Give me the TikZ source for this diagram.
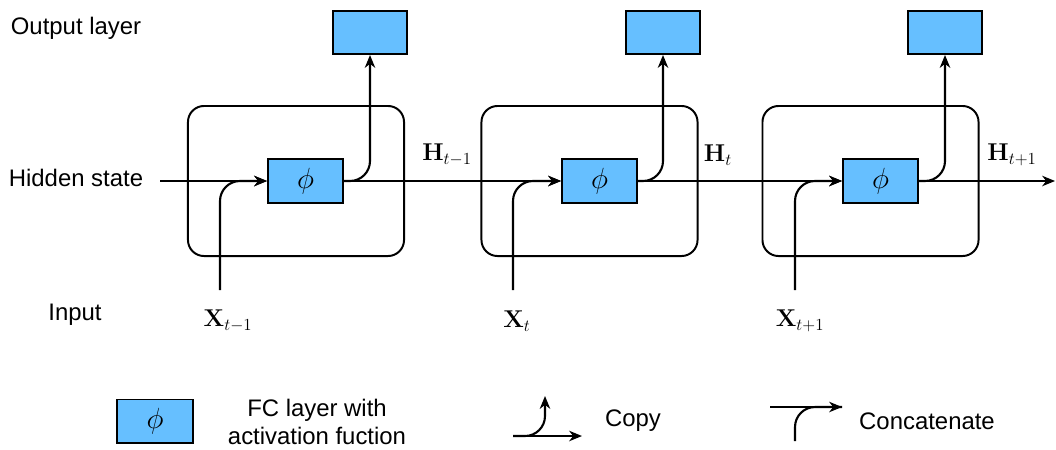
\documentclass[tikz,border=0pt]{standalone}
\usepackage[no-math]{fontspec}
\setmainfont{Liberation Sans}
\usetikzlibrary{arrows.meta,positioning}
\definecolor{fcblue}{RGB}{102,191,255}

\begin{document}
\begin{tikzpicture}[
    x=0.025cm, y=-0.025cm,
    fc/.style={rectangle, draw=black, line width=1.4pt, fill=fcblue, minimum width=1.875cm, minimum height=1.1cm, font=\fontsize{20}{22}\selectfont},
    outbox/.style={rectangle, draw=black, line width=1.4pt, fill=fcblue, minimum width=1.85cm, minimum height=1.075cm},
    cell/.style={rectangle, draw=black, line width=1.4pt, rounded corners=0.4cm, minimum width=5.4cm, minimum height=3.75cm},
    arrow/.style={-{Stealth[length=3.2mm, width=2.6mm, inset=1mm]}, line width=1.5pt},
    link/.style={line width=1.5pt},
    lbl/.style={font=\fontsize{17}{20}\selectfont},
    var/.style={font=\fontsize{17}{20}\selectfont},
]
\useasboundingbox (0,0) rectangle (1056,449);

% Row labels
\node[lbl] (outlbl) at (76,28) {Output layer};
\node[lbl] (hidlbl) at (76,178) {Hidden state};
\node[lbl] (inlbl) at (75,315) {Input};

% Cells
\node[cell] (cell1) at (296,181) {};
\node[cell] (cell2) at (589.5,181) {};
\node[cell] (cell3) at (870.5,181) {};

% FC layers
\node[fc] (phi1) at (305.5,181) {$\phi$};
\node[fc] (phi2) at (599.5,181) {$\phi$};
\node[fc] (phi3) at (880.5,181) {$\phi$};

% Output layers
\node[outbox] (out1) at (370,32.5) {};
\node[outbox] (out2) at (663,32.5) {};
\node[outbox] (out3) at (945,32.5) {};

% Inputs
\coordinate (xin1) at (220,290);
\coordinate (xin2) at (513,290);
\coordinate (xin3) at (795,290);
\node[var] (x1) at (228,321) {$\mathbf{X}_{t-1}$};
\node[var] (x2) at (517,321) {$\mathbf{X}_{t}$};
\node[var] (x3) at (800,321) {$\mathbf{X}_{t+1}$};

% Hidden states
\coordinate (hin) at (160,181);
\coordinate (hend) at (1055,181);
\node[var] (h1) at (447,155) {$\mathbf{H}_{t-1}$};
\node[var] (h2) at (718,155) {$\mathbf{H}_{t}$};
\node[var] (h3) at (1012,155) {$\mathbf{H}_{t+1}$};

% Connections
\draw[arrow] (hin) -- (phi1.west);
\draw[arrow] (phi1.east) -- (phi2.west);
\draw[arrow] (phi2.east) -- (phi3.west);
\draw[arrow] (phi3.east) -- (hend);

\draw[arrow, rounded corners=0.5cm] (xin1) |- (phi1.west);
\draw[arrow, rounded corners=0.5cm] (xin2) |- (phi2.west);
\draw[arrow, rounded corners=0.5cm] (xin3) |- (phi3.west);

\draw[arrow, rounded corners=0.5cm] (phi1.east) -| (out1.south);
\draw[arrow, rounded corners=0.5cm] (phi2.east) -| (out2.south);
\draw[arrow, rounded corners=0.5cm] (phi3.east) -| (out3.south);

% Legend
\node[fc, minimum width=1.9cm, minimum height=1.075cm] (legphi) at (155,421) {$\phi$};
\node[lbl, align=center] (legfc) at (317,422) {FC layer with\\activation fuction};

\coordinate (cpa) at (513,436);
\coordinate (cpb) at (582,436);
\coordinate (cpc) at (545,396);
\draw[arrow] (cpa) -- (cpb);
\draw[arrow, rounded corners=0.5cm] (cpa) -| (cpc);
\node[lbl] (copy) at (633,421) {Copy};

\coordinate (cca) at (770,407);
\coordinate (ccb) at (842,407);
\coordinate (ccv) at (795,441);
\draw[arrow] (cca) -- (ccb);
\draw[link, rounded corners=0.5cm] (ccv) |- (ccb);
\node[lbl] (concat) at (927,421) {Concatenate};

\end{tikzpicture}
\end{document}
